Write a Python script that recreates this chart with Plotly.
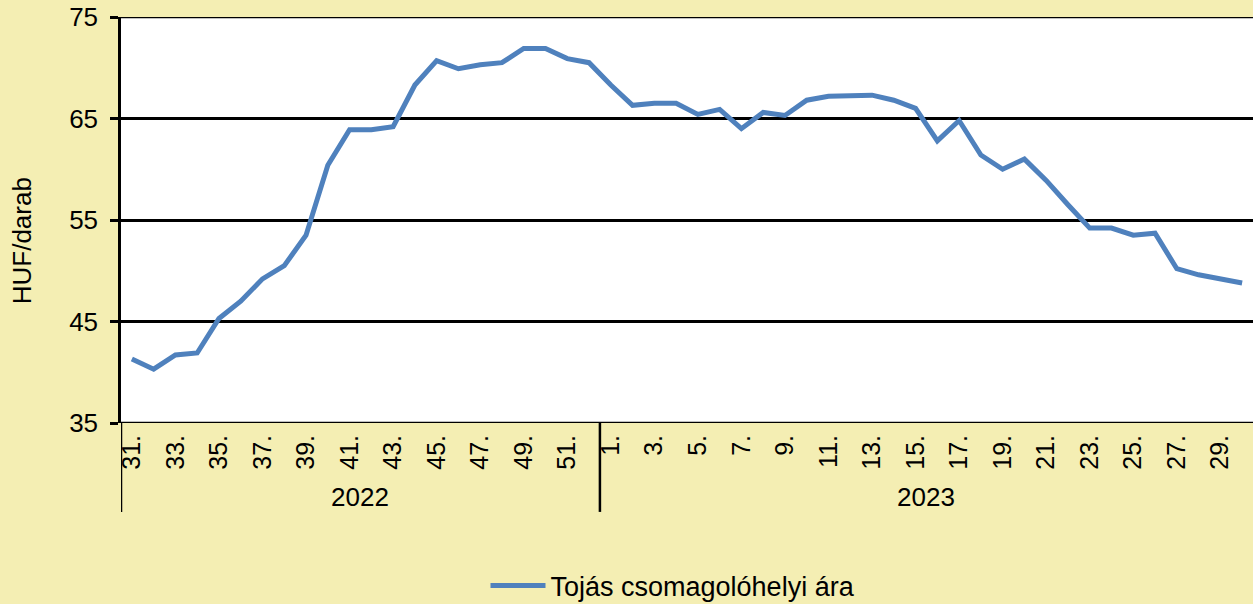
import plotly.graph_objects as go

weeks_2022 = list(range(31, 53))
weeks_2023 = list(range(1, 31))
years = ["2022", "2023"]

prices_2022 = [41.3, 40.3, 41.7, 41.9, 45.3, 47.0, 49.2, 50.5, 53.5, 60.4, 63.9, 63.9,
               64.2, 68.3, 70.7, 69.9, 70.3, 70.5, 71.9, 71.9, 70.9, 70.5]
prices_2023 = [68.3, 66.3, 66.5, 66.5, 65.4, 65.9, 64.0, 65.6, 65.3, 66.8, 67.2, 67.3,
               67.3, 66.8, 66.0, 62.8, 64.8, 61.4, 60.0, 61.0, 58.9, 56.5, 54.2, 54.2,
               53.5, 53.7, 50.2, 49.6, 49.2, 48.8]

y_ticks = [35, 45, 55, 65, 75]
series_name = "Tojás csomagolóhelyi ára"
y_title = "HUF/darab"

cats = [f"{years[0]}-{w}" for w in weeks_2022] + [f"{years[1]}-{w}" for w in weeks_2023]
labels = [f"{w}." for w in weeks_2022] + [f"{w}." for w in weeks_2023]
values = prices_2022 + prices_2023

tickvals = [c for c, w in zip(cats, weeks_2022 + weeks_2023) if w % 2 == 1]
ticktext = [l for l, w in zip(labels, weeks_2022 + weeks_2023) if w % 2 == 1]

FONT = "Liberation Sans, Arial, sans-serif"
BG = "#F4EEB3"

fig = go.Figure()
fig.add_trace(go.Scatter(x=cats, y=values, mode="lines", name=series_name,
                         line=dict(color="#4F81BD", width=5)))

n22 = len(weeks_2022)
n = len(cats)

shapes = [
    dict(type="line", xref="x", yref="paper", x0=-0.5, x1=-0.5, y0=0, y1=-0.219,
         line=dict(color="black", width=2.5)),
    dict(type="line", xref="x", yref="paper", x0=n22 - 0.5, x1=n22 - 0.5, y0=0, y1=-0.219,
         line=dict(color="black", width=2.5)),
]
for v in (y_ticks[0], y_ticks[-1]):
    shapes.append(dict(type="line", xref="paper", yref="y", x0=0, x1=1, y0=v, y1=v,
                       line=dict(color="black", width=2.5)))

fig.update_layout(
    width=1253, height=604,
    paper_bgcolor=BG, plot_bgcolor="white",
    margin=dict(l=121, r=0, t=17, b=181, autoexpand=False),
    font=dict(family=FONT, size=26, color="black"),
    showlegend=True,
    legend=dict(orientation="h", x=0.322, xref="paper", xanchor="left",
                y=18 / 604, yref="container", yanchor="middle",
                bgcolor="rgba(0,0,0,0)", font=dict(size=27), itemwidth=55),
    xaxis=dict(type="category", range=[-0.5, n - 0.5], tickmode="array",
               tickvals=tickvals, ticktext=ticktext, tickangle=-90,
               showgrid=False, showline=False, ticks="", zeroline=False,
               tickfont=dict(size=25), automargin=False, ticklabelstandoff=6),
    yaxis=dict(range=[35, 75], tickvals=y_ticks, showgrid=True,
               gridcolor="black", gridwidth=2.5, showline=True, linecolor="black",
               linewidth=2.5, ticks="outside", ticklen=8, tickwidth=2.5,
               tickcolor="black", zeroline=False, ticklabelstandoff=7,
               automargin=False),
    annotations=[
        dict(text=years[0], x=(n22 - 1) / 2, xref="x", y=-0.182, yref="paper",
             xanchor="center", yanchor="middle", showarrow=False, font=dict(size=26)),
        dict(text=years[1], x=n22 + (n - n22 - 1) / 2, xref="x", y=-0.182, yref="paper",
             xanchor="center", yanchor="middle", showarrow=False, font=dict(size=26)),
        dict(text=y_title, x=-0.0875, xref="paper", y=0.45, yref="paper",
             xanchor="center", yanchor="middle",
             textangle=-90, showarrow=False, font=dict(size=26)),
    ],
    shapes=shapes,
)

fig.write_html("out.html", config={"displayModeBar": False},
               post_script="document.body.style.margin='0';")
